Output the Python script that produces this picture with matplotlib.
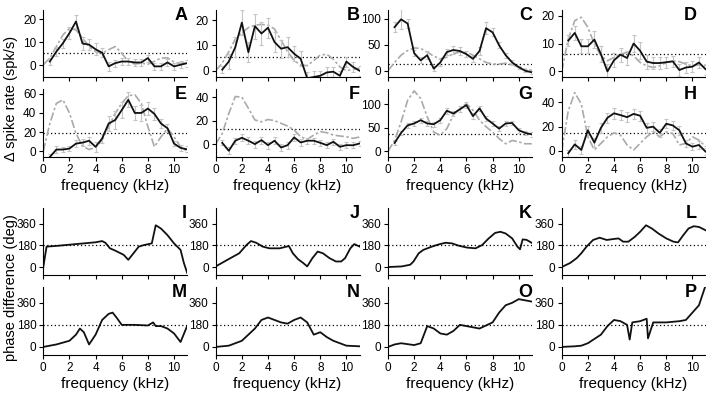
import matplotlib.pyplot as plt
import numpy as np

plt.rcParams['font.family'] = ['Liberation Sans', 'DejaVu Sans']

# measured points (kHz) and model curve samples (kHz)
freq = [0.5, 1.0, 1.5, 2.0, 2.5, 3.0, 3.5, 4.0, 4.5, 5.0, 5.5,
        6.0, 6.5, 7.0, 7.5, 8.0, 8.5, 9.0, 9.5, 10.0, 10.5, 11.0]
freq_model = [0.0, 0.5, 1.0, 1.5, 2.0, 2.5, 3.0, 3.5, 4.0, 4.5, 5.0, 5.5,
              6.0, 6.5, 7.0, 7.5, 8.0, 8.5, 9.0, 9.5, 10.0, 10.5, 11.0]

rate_A = [1.7, 6, 9.6, 14, 19, 9.5, 9, 7, 5.5, -0.4, 1, 1.7, 1.7, 1.3, 1.3, 3.2, -0.4, -0.4, 1.3, -0.4, 0.3, 1.0]
err_A = [1.5, 2, 2, 2.5, 3, 3, 2.5, 2.5, 2, 2, 1.5, 1.5, 1.5, 1.5, 1.5, 1.5, 1.5, 1.5, 1.5, 1.5, 1.5, 1.5]
model_A = [0.3, 3.2, 8.2, 13.2, 16, 15.4, 11.8, 8.2, 6, 5.3, 6.8, 8.2, 5.3, 1.7, 0.6, 1, 0.5, 1.8, 3.2, 3.3, 1.5, 0.8, 1.5]

rate_B = [0.4, 3.6, 9.3, 19, 7.3, 17.6, 14.7, 17, 11.3, 8.7, 9.3, 6.7, 4.7, -3, -2.5, -2, -0.7, -0.4, -2, 3.6, 1.5, 0]
err_B = [1.5, 3, 4, 5, 4, 5, 4.5, 4, 4, 3.5, 4, 3, 3, 2.5, 2.5, 2, 2, 2, 2, 2, 2, 2]
model_B = [0, 3, 7.5, 12.5, 15, 17, 18, 18.3, 18, 16.5, 12, 7.5, 4, 2.2, 2, 4, 6.2, 6.5, 4.5, 1.5, 0, 0.5, 1]

rate_C = [84, 99, 91, 34, 20, 30, 4, 16, 36, 40, 38, 32, 23, 38, 82, 74, 49, 30, 16, 7, 0, -3]
err_C = [10, 19, 8, 6, 6, 8, 5, 6, 6, 7, 7, 6, 6, 7, 12, 8, 6, 5, 4, 3, 3, 3]
model_C = [0, 16, 30, 39, 44, 43, 36, 28, 23, 26, 33, 36, 36, 30, 23, 16, 13, 13, 14.5, 12, 6.5, 3, 1]

rate_D = [11, 13.8, 9, 9, 11.4, 6.2, 0, 4, 6, 4.8, 10, 7.4, 3.5, 3, 3, 3.3, 3.6, 0.5, 1.4, 1.7, 3.2, 0.8]
err_D = [2, 2.5, 2.5, 2.5, 3, 3, 2.5, 2.5, 2.5, 2.5, 3, 3, 2.5, 2, 2, 2, 2, 2, 2, 2, 2, 2]
model_D = [0, 11.6, 18.2, 19.4, 15.8, 9.8, 5.6, 3.8, 5, 6.2, 6.8, 5.6, 3.2, 2, 1.4, 2, 3.2, 3.8, 3.5, 2.6, 2, 2.4, 2]

rate_E = [-6, 1.8, 1.8, 2.8, 8, 9, 11, 4.6, 13.3, 29, 32.6, 43, 53.7, 40, 40, 44.6, 39, 29, 24, 8, 3.5, 2]
err_E = [3, 4, 3, 3, 4, 4, 4, 5, 5, 8, 9, 8, 8, 7, 8, 7, 6, 5, 4, 3, 3, 3]
model_E = [0, 29, 50, 53.7, 40, 18.6, 5.3, 1.8, 3.9, 11.6, 25.6, 39.6, 50, 58, 59, 50, 25.6, 4.6, 15, 24, 15, 4.6, 0]

rate_F = [1.1, -5.7, 2.9, 5.4, 2.9, 0, 3.4, -0.9, 2.9, -2.9, -0.9, 5.7, 1.4, 2.9, 2.9, 1.1, -0.9, 2, -2.3, -0.9, -1, 0.5]
err_F = [2, 3, 2.5, 3, 3, 3, 3, 3, 3, 3, 3, 3, 3, 2.5, 2.5, 2.5, 2.5, 2.5, 2.5, 2.5, 2.5, 2.5]
model_F = [0, 9, 26, 40.6, 40, 30.6, 20.6, 19, 21, 20, 17.7, 15.4, 12, 6.3, 4, 7.7, 10.6, 9.7, 7.7, 6.9, 6.3, 4.9, 6]

rate_G = [17.7, 39, 55, 59, 66, 59, 57.4, 66, 86, 80, 89, 98, 74.5, 91, 69.5, 59, 48, 59, 60, 44.7, 39, 36]
err_G = [5, 5, 5, 5, 5, 5, 5, 5, 6, 6, 6, 6, 6, 6, 6, 6, 5, 5, 5, 5, 5, 5]
model_G = [0, 23, 62, 108, 128, 112, 73, 41, 34, 48, 77, 91, 101, 87, 66, 52, 41, 27, 16, 23, 20, 16, 16]

rate_H = [-1.9, 5.4, 0.8, 17, 6.8, 19, 27.3, 31, 29.5, 27.8, 30.5, 29, 19, 20, 14.9, 22.4, 21, 17, 6.2, 3.5, 4.9, -0.5]
err_H = [3, 3.5, 3, 3.5, 3.5, 4, 4, 4.5, 4, 4, 4, 4, 4, 3.5, 3.5, 3.5, 3.5, 3.5, 3, 3, 3, 3]
model_H = [0, 33, 48, 38.6, 11.6, 0.8, 6.2, 11.6, 14.9, 13, 4.9, 0.8, 6.2, 11.6, 15.7, 11.6, 15.7, 14.3, 4.9, 6.2, 11.6, 8.9, 3.5]

thresh = [5.3, 5.3, 13, 6.2, 19.3, 12.6, 37.6, 15.1]

# phase difference curves
f_I = [0, 0.25, 1, 2, 3, 4, 4.5, 4.75, 5.1, 5.5, 6.15, 6.5, 6.9, 7.3, 7.7, 8.3, 8.6, 9.0, 9.5, 10.0, 10.5, 10.75, 11.0]
ph_I = [0, 169, 175, 185, 195, 205, 215, 201, 155, 136, 101, 60, 114, 169, 182, 196, 346, 319, 264, 196, 142, 35, -47]
f_J = [0, 0.9, 1.8, 2.35, 2.7, 3.1, 3.6, 4.1, 4.9, 5.6, 5.9, 6.3, 6.7, 7.0, 7.4, 7.8, 8.2, 8.7, 9.2, 9.6, 9.9, 10.3, 10.6, 11.0]
ph_J = [5, 60, 114, 182, 215, 201, 169, 155, 155, 174, 114, 65, 33, 5, 74, 128, 114, 74, 46, 46, 74, 155, 190, 170]
f_K = [0, 1.05, 1.7, 1.95, 2.35, 2.7, 3.35, 3.9, 4.4, 4.9, 5.4, 6.05, 6.7, 7.2, 7.7, 8.2, 8.6, 9.0, 9.5, 9.9, 10.1, 10.3, 10.6, 11.0]
ph_K = [0, 5, 19, 46, 114, 142, 169, 188, 201, 196, 177, 161, 155, 182, 237, 283, 292, 278, 237, 169, 147, 229, 225, 200]
f_L = [0, 0.64, 1.15, 1.5, 1.9, 2.4, 2.9, 3.45, 3.95, 4.35, 4.7, 5.1, 5.6, 6.0, 6.45, 6.9, 7.4, 8.0, 8.55, 8.9, 9.3, 9.7, 10.1, 10.5, 11.0]
ph_L = [0, 33, 74, 114, 169, 224, 243, 224, 232, 237, 210, 210, 251, 292, 346, 319, 278, 237, 210, 204, 264, 319, 338, 332, 305]
f_M = [0, 1, 2, 2.5, 2.8, 3.1, 3.5, 4.0, 4.5, 5.0, 5.3, 5.6, 6.0, 7.0, 8.0, 8.4, 8.6, 9.0, 9.5, 10.0, 10.5, 11.0]
ph_M = [0, 20, 50, 100, 150, 120, 20, 100, 220, 270, 280, 240, 180, 180, 175, 200, 170, 170, 150, 110, 40, 170]
f_N = [0, 1, 2, 3, 3.5, 4, 5, 5.5, 6, 6.5, 7, 7.5, 8, 8.5, 9, 10, 11]
ph_N = [0, 10, 50, 150, 220, 240, 200, 190, 220, 240, 200, 100, 120, 80, 50, 10, 5]
f_O = [0, 0.5, 1, 2, 2.5, 3, 3.5, 4, 4.5, 5, 5.5, 6, 7, 8, 8.5, 9, 9.5, 10, 10.5, 11]
ph_O = [0, 20, 30, 15, 30, 170, 150, 110, 100, 130, 180, 170, 150, 200, 280, 340, 360, 390, 380, 370]
f_P = [0, 1, 1.5, 2, 3, 3.5, 4, 4.5, 5, 5.2, 5.4, 6, 6.5, 6.6, 7, 8, 9, 9.5, 10, 10.5, 11]
ph_P = [0, 5, 10, 30, 100, 170, 220, 210, 180, 60, 200, 210, 230, 70, 200, 200, 210, 220, 280, 340, 500]

rate_panels = [('A', rate_A, err_A, model_A, (-5, 24), [0, 10, 20]),
               ('B', rate_B, err_B, model_B, (-2.5, 24), [0, 10, 20]),
               ('C', rate_C, err_C, model_C, (-12, 117), [0, 50, 100]),
               ('D', rate_D, err_D, model_D, (-2, 22), [0, 10, 20]),
               ('E', rate_E, err_E, model_E, (-6, 65), [0, 20, 40, 60]),
               ('F', rate_F, err_F, model_F, (-11, 47), [0, 20, 40]),
               ('G', rate_G, err_G, model_G, (-12, 132), [0, 50, 100]),
               ('H', rate_H, err_H, model_H, (-5, 51), [0, 20, 40])]
phase_panels = [('I', f_I, ph_I), ('J', f_J, ph_J), ('K', f_K, ph_K), ('L', f_L, ph_L),
                ('M', f_M, ph_M), ('N', f_N, ph_N), ('O', f_O, ph_O), ('P', f_P, ph_P)]

W, H = 706, 394
fig = plt.figure(figsize=(W / 100, H / 100), dpi=100)
lefts = [43.3, 215.7, 388, 561.7]
width = 143.8
rows = [(10, 77), (89, 157), (208, 275), (287, 355)]


def make_ax(col, row, letter):
    top, bot = rows[row]
    ax = fig.add_axes([lefts[col] / W, 1 - bot / H, width / W, (bot - top) / H])
    ax.spines['top'].set_visible(False)
    ax.spines['right'].set_visible(False)
    ax.spines['left'].set_linewidth(0.8)
    ax.spines['bottom'].set_linewidth(0.8)
    ax.tick_params(direction='out', length=3, width=0.8, labelsize=8.5, pad=2)
    ax.set_xlim(0, 11)
    ax.set_xticks([0, 2, 4, 6, 8, 10])
    if row in (1, 3):
        ax.set_xlabel('frequency (kHz)', fontsize=11, labelpad=2)
    else:
        ax.set_xticklabels([])
    lx = 1.0 if col < 3 else 0.94
    ax.text(lx, 1.04, letter, transform=ax.transAxes, ha='right', va='top',
            fontsize=13, fontweight='bold')
    return ax


for i, (letter, rate, err, model, ylim, yt) in enumerate(rate_panels):
    ax = make_ax(i % 4, i // 4, letter)
    ax.plot(freq_model, model, color='#aaaaaa', lw=1.2, dashes=(5, 1.5, 1.5, 1.5), zorder=1)
    ax.errorbar(freq, rate, yerr=err, fmt='none', ecolor='#c4c4c4', elinewidth=0.8,
                capsize=1.5, capthick=0.8, zorder=2)
    ax.plot(freq, rate, color='#111111', lw=1.3, zorder=3)
    ax.axhline(thresh[i], color='black', lw=0.9, linestyle=(0, (1, 2)), zorder=0)
    ax.set_ylim(ylim)
    ax.set_yticks(yt)

for i, (letter, f, ph) in enumerate(phase_panels):
    ax = make_ax(i % 4, 2 + i // 4, letter)
    ax.plot(f, ph, color='#111111', lw=1.3)
    ax.axhline(180, color='black', lw=0.9, linestyle=(0, (1, 2)))
    ax.set_ylim(-66, 489)
    ax.set_yticks([0, 180, 360])

fig.text(11 / W, 1 - 98 / H, '\u0394 spike rate (spk/s)', rotation=90, ha='center', va='center', fontsize=10.5)
fig.text(11 / W, 1 - 288 / H, 'phase difference (deg)', rotation=90, ha='center', va='center', fontsize=10.5)

plt.savefig('out.png', dpi=100)
